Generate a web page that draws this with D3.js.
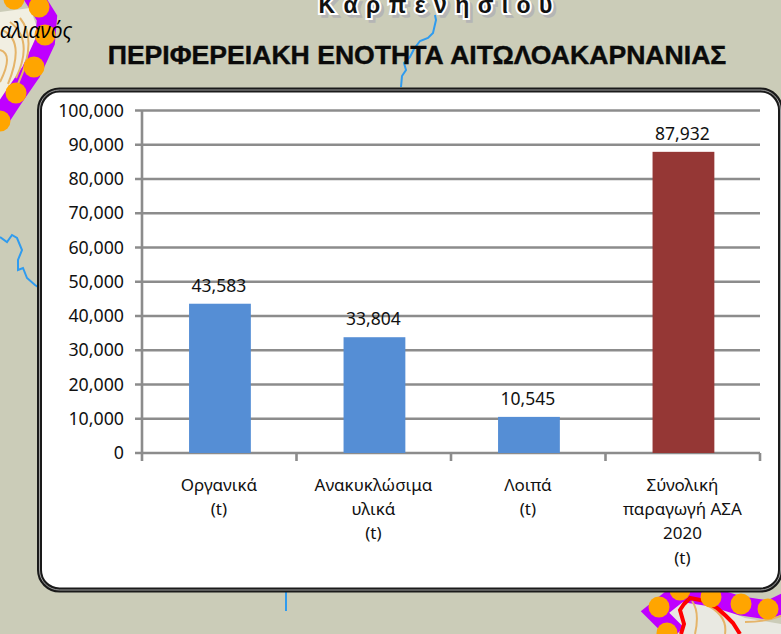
<!DOCTYPE html>
<html>
<head>
<meta charset="utf-8">
<script src="https://cdn.jsdelivr.net/npm/d3@7"></script>
<style>
html,body{margin:0;padding:0;background:#cbccb8;overflow:hidden}
svg{display:block}
</style>
</head>
<body>
<script>
// chart values
var categories = ["Οργανικά", "Ανακυκλώσιμα", "Λοιπά", "Σύνολική"];
var categoryLabels = [
  ["Οργανικά", "(t)"],
  ["Ανακυκλώσιμα", "υλικά", "(t)"],
  ["Λοιπά", "(t)"],
  ["Σύνολική", "παραγωγή ΑΣΑ", "2020", "(t)"]
];
var values = [43583, 33804, 10545, 87932];
var barColors = ["#558ed5", "#558ed5", "#558ed5", "#953735"];
var yTicks = [0, 10000, 20000, 30000, 40000, 50000, 60000, 70000, 80000, 90000, 100000];
var titleText = "ΠΕΡΙΦΕΡΕΙΑΚΗ ΕΝΟΤΗΤΑ ΑΙΤΩΛΟΑΚΑΡΝΑΝΙΑΣ";
var cityText = "Κ α ρ π ε ν η σ ί ο υ";

// bits of the map behind the chart
var riverTop = [[435,15],[436,20],[433,33],[428,38],[420,41],[414,49],[410,57],[404,63],[406,70],[402,76],[401,87]];
var riverLeft = [[0,237],[7,242],[12,235],[17,238],[22,250],[18,260],[18,270],[23,268],[27,278],[35,285],[38,287]];
var riverBottom = [[286,590],[286,611]];
var borderTL = [[32,-6],[47,18],[45,42],[31,72],[13,98],[-4,124]];
var dotsTL = [[14,-1],[39,7],[45,35],[34,67],[16,93],[0,121]];
var borderBR = [[677,634],[655,612],[680,592],[712,597],[741,606],[769,610],[790,600]];
var dotsBR = [[659,607],[680,590],[711,597],[741,604],[768,609],[667,633]];
var redBR = [[681,634],[684,624],[680,610],[684,604],[690,598],[705,601],[717,608],[726,616],[733,623],[740,634]];

var width = 781, height = 634;
var svg = d3.select("body").append("svg")
  .attr("width", width)
  .attr("height", height);

var line = d3.line();

// map background
svg.append("path").attr("d", "M0,12 L30,8 L38,30 L26,65 L0,112 Z").attr("fill", "#f1efe2");
svg.append("path").attr("d", line(borderTL)).attr("fill", "none").attr("stroke", "#bf00ff").attr("stroke-width", 20);
svg.append("path").attr("d", "M10,22 Q34,40 16,78 M2,30 Q26,40 8,84 M20,18 Q38,40 18,84 M0,50 Q14,54 0,82").attr("fill", "none").attr("stroke", "#e5b469").attr("stroke-width", 2);
svg.selectAll(".dotTL").data(dotsTL).enter().append("circle")
  .attr("cx", function(d){ return d[0]; }).attr("cy", function(d){ return d[1]; }).attr("r", 10.5).attr("fill", "#ffa500");

svg.append("path").attr("d", "M668,634 L668,603 L690,596 L716,606 L745,618 L781,624 L781,634 Z").attr("fill", "#e9e9e2");
svg.append("path").attr("d", line(borderBR)).attr("fill", "none").attr("stroke", "#bf00ff").attr("stroke-width", 19);
svg.append("path").attr("d", "M695,634 Q700,612 692,601 M725,634 Q728,615 705,604 M745,622 Q765,622 781,616").attr("fill", "none").attr("stroke", "#e5b469").attr("stroke-width", 2);
svg.append("path").attr("d", line(redBR)).attr("fill", "none").attr("stroke", "#ff0000").attr("stroke-width", 4);
svg.selectAll(".dotBR").data(dotsBR).enter().append("circle")
  .attr("cx", function(d){ return d[0]; }).attr("cy", function(d){ return d[1]; }).attr("r", 10.5).attr("fill", "#ffa500");

[riverTop, riverLeft, riverBottom].forEach(function(r){
  svg.append("path").attr("d", line(r)).attr("fill", "none").attr("stroke", "#2f9bef").attr("stroke-width", 2);
});

svg.append("text").attr("x", 72).attr("y", 38).attr("text-anchor", "end")
  .attr("font-family", "'Open Sans', sans-serif").attr("font-style", "italic").attr("font-size", 21)
  .text("αλιανός");

// town name with halo and soft shadow
svg.append("text").attr("x", 436).attr("y", 13).attr("text-anchor", "middle")
  .attr("font-family", "'Liberation Sans', sans-serif").attr("font-weight", "bold").attr("font-size", 23)
  .attr("letter-spacing", 1)
  .attr("fill", "#b5b5b5").attr("stroke", "#b5b5b5").attr("stroke-width", 3.5)
  .attr("transform", "translate(3,3)").text(cityText);
svg.append("text").attr("x", 436).attr("y", 13).attr("text-anchor", "middle")
  .attr("font-family", "'Liberation Sans', sans-serif").attr("font-weight", "bold").attr("font-size", 23)
  .attr("letter-spacing", 1)
  .attr("fill", "#111").attr("stroke", "#fff").attr("stroke-width", 4).attr("paint-order", "stroke")
  .text(cityText);

svg.append("text").attr("x", 417).attr("y", 64).attr("text-anchor", "middle")
  .attr("font-family", "'Liberation Sans', sans-serif").attr("font-weight", "bold").attr("font-size", 26.6)
  .attr("fill", "#0a0a0a").attr("stroke", "#0a0a0a").attr("stroke-width", 0.4).text(titleText);

// chart frame, double rule
svg.append("rect").attr("x", 39.5).attr("y", 90).attr("width", 741).attr("height", 500).attr("rx", 20)
  .attr("fill", "#fff").attr("stroke", "#1a1a1a").attr("stroke-width", 5);
svg.append("rect").attr("x", 39.5).attr("y", 90).attr("width", 741).attr("height", 500).attr("rx", 20)
  .attr("fill", "none").attr("stroke", "#d8d8d8").attr("stroke-width", 0.7);

// scales
var x = d3.scaleBand().domain(categories).range([142.7, 760.7]).paddingInner(0.6).paddingOuter(0.3);
var xOuter = d3.scaleBand().domain(categories).range([142, 760]);
var y = d3.scaleLinear().domain([0, 100000]).range([453, 110.5]);

var axisColor = "#8c8c8c";

// gridlines
svg.append("g").selectAll("line").data(yTicks).enter().append("line")
  .attr("x1", 135).attr("x2", 760)
  .attr("y1", function(d){ return y(d); }).attr("y2", function(d){ return y(d); })
  .attr("stroke", axisColor).attr("stroke-width", 2.6);

// y axis, ticks drawn by the gridlines
var yAxis = d3.axisLeft(y).tickValues(yTicks).tickSize(0).tickPadding(18).tickFormat(d3.format(","));
var gy = svg.append("g").attr("transform", "translate(142,0)").call(yAxis);
gy.select(".domain").remove();
gy.selectAll("text").attr("font-family", "'Noto Sans', sans-serif").attr("font-size", 17.8).attr("fill", "#111");

svg.append("line").attr("x1", 142).attr("x2", 142).attr("y1", 110).attr("y2", 461)
  .attr("stroke", axisColor).attr("stroke-width", 2.6);

// category ticks
svg.append("g").selectAll("line").data(categories).enter().append("line")
  .attr("x1", function(d){ return xOuter(d) + xOuter.bandwidth(); })
  .attr("x2", function(d){ return xOuter(d) + xOuter.bandwidth(); })
  .attr("y1", 453).attr("y2", 461)
  .attr("stroke", axisColor).attr("stroke-width", 2.6);

// bars
svg.append("g").selectAll("rect").data(values).enter().append("rect")
  .attr("x", function(d, i){ return x(categories[i]); })
  .attr("width", x.bandwidth())
  .attr("y", function(d){ return y(d); })
  .attr("height", function(d){ return y(0) - y(d); })
  .attr("fill", function(d, i){ return barColors[i]; });

// value labels
svg.append("g").selectAll("text").data(values).enter().append("text")
  .attr("x", function(d, i){ return x(categories[i]) + x.bandwidth() / 2 - 1; })
  .attr("y", function(d){ return y(d) - 12; })
  .attr("text-anchor", "middle")
  .attr("font-family", "'Noto Sans', sans-serif").attr("font-size", 17.5).attr("fill", "#111")
  .text(d3.format(","));

// category labels, wrapped by hand as in the picture
categoryLabels.forEach(function(lines, i){
  var cx = x(categories[i]) + x.bandwidth() / 2 - 1;
  svg.append("text").attr("text-anchor", "middle")
    .attr("font-family", "'Noto Sans', sans-serif").attr("font-size", 17).attr("fill", "#111")
    .selectAll("tspan").data(lines).enter().append("tspan")
    .attr("x", cx)
    .attr("y", function(d, j){ return 491 + j * 24.2; })
    .text(function(d){ return d; });
});
</script>
</body>
</html>
